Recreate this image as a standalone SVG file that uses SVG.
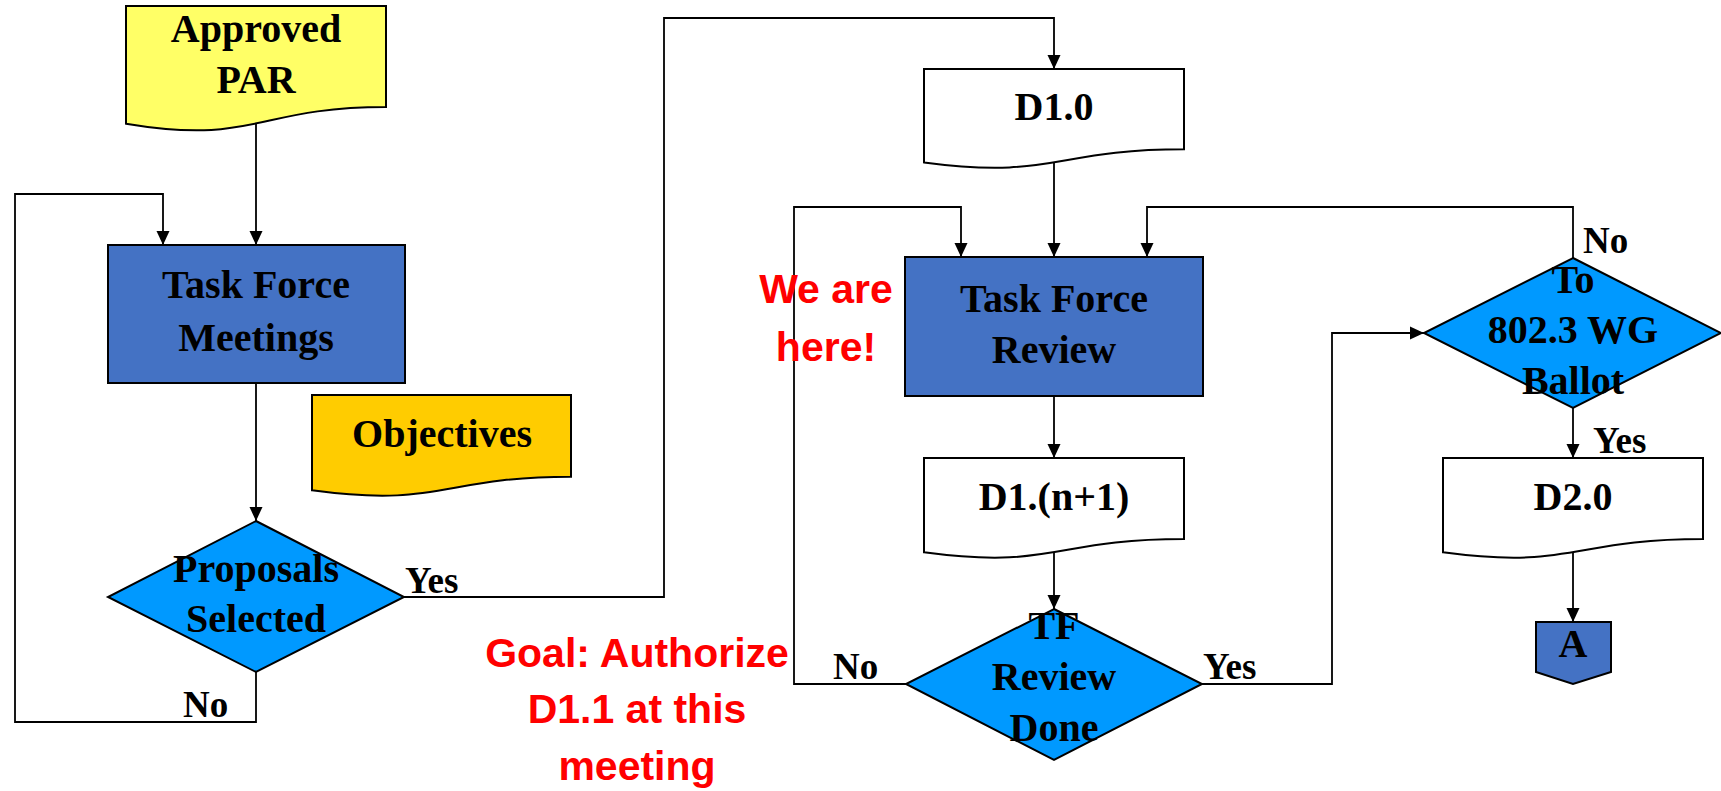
<svg xmlns="http://www.w3.org/2000/svg" width="1721" height="791" viewBox="0 0 1721 791">
<style>
.sh{stroke:#000;stroke-width:2}
.t{font-family:"Liberation Serif","Times New Roman",serif;font-weight:bold;font-size:40px;fill:#000;text-anchor:middle}
.l{font-family:"Liberation Serif","Times New Roman",serif;font-weight:bold;font-size:37px;fill:#000}
.r{font-family:"Liberation Sans",Arial,sans-serif;font-weight:bold;font-size:41px;fill:#FF0000;text-anchor:middle}
.c{fill:none;stroke:#000;stroke-width:1.8}
</style>
<defs>
<marker id="ah" markerUnits="userSpaceOnUse" markerWidth="16" markerHeight="16" viewBox="0 0 16 16" refX="15" refY="8" orient="auto">
<path d="M1,1.5 L15,8 L1,14.5 Z" fill="#000"/>
</marker>
</defs>
<rect width="1721" height="791" fill="#fff"/>
<g id="connectors">
<path class="c" d="M256,124 V245" marker-end="url(#ah)"/>
<path class="c" d="M256,383 V521" marker-end="url(#ah)"/>
<path class="c" d="M256,672 V722 H15 V194 H163 V245" marker-end="url(#ah)"/>
<path class="c" d="M404,597 H664 V18 H1054 V69" marker-end="url(#ah)"/>
<path class="c" d="M1054,162 V257" marker-end="url(#ah)"/>
<path class="c" d="M1054,396 V458" marker-end="url(#ah)"/>
<path class="c" d="M1054,552 V609" marker-end="url(#ah)"/>
<path class="c" d="M906,684 H794 V207 H961 V257" marker-end="url(#ah)"/>
<path class="c" d="M1202,684 H1332 V333 H1424" marker-end="url(#ah)"/>
<path class="c" d="M1573,258 V207 H1147 V257" marker-end="url(#ah)"/>
<path class="c" d="M1573,408 V458" marker-end="url(#ah)"/>
<path class="c" d="M1573,552 V622" marker-end="url(#ah)"/>
<text class="l" x="405" y="593">Yes</text>
<text class="l" x="183" y="717">No</text>
<text class="l" x="833" y="679">No</text>
<text class="l" x="1203" y="679">Yes</text>
<text class="l" x="1583" y="253">No</text>
<text class="l" x="1593" y="453">Yes</text>
</g>
<g id="approved-par">
<path class="sh" fill="#FFFF66" d="M126,6 H386 V107 C256,107 256,145.5 126,123.7 Z"/>
<text class="t" x="256" y="42">Approved</text>
<text class="t" x="256" y="93">PAR</text>
</g>
<g id="tf-meetings">
<rect class="sh" fill="#4472C4" x="108" y="245" width="297" height="138"/>
<text class="t" x="256" y="298">Task Force</text>
<text class="t" x="256" y="351">Meetings</text>
</g>
<g id="objectives">
<path class="sh" fill="#FFCC00" d="M312,395 H571 V476.8 C441.5,476.8 441.5,508 312,490.3 Z"/>
<text class="t" x="442" y="447">Objectives</text>
</g>
<g id="proposals-selected">
<polygon class="sh" fill="#0099FF" points="256,521 404,597 256,672 108,597"/>
<text class="t" x="256" y="582">Proposals</text>
<text class="t" x="256" y="632">Selected</text>
</g>
<g id="d10">
<path class="sh" fill="#fff" d="M924,69 H1184 V149.2 C1054,149.2 1054,179.8 924,162.4 Z"/>
<text class="t" x="1054" y="120">D1.0</text>
</g>
<g id="tf-review">
<rect class="sh" fill="#4472C4" x="905" y="257" width="298" height="139"/>
<text class="t" x="1054" y="312">Task Force</text>
<text class="t" x="1054" y="363">Review</text>
</g>
<g id="d1n1">
<path class="sh" fill="#fff" d="M924,458 H1184 V539 C1054,539 1054,569.9 924,552.3 Z"/>
<text class="t" x="1054" y="510">D1.(n+1)</text>
</g>
<g id="tf-review-done">
<polygon class="sh" fill="#0099FF" points="1054,609 1202,684 1054,760 906,684"/>
<text class="t" x="1054" y="639">TF</text>
<text class="t" x="1054" y="690">Review</text>
<text class="t" x="1054" y="741">Done</text>
</g>
<g id="wg-ballot">
<polygon class="sh" fill="#0099FF" points="1573,258 1721,333 1573,408 1424,333"/>
<text class="t" x="1573" y="293">To</text>
<text class="t" x="1573" y="343">802.3 WG</text>
<text class="t" x="1573" y="394">Ballot</text>
</g>
<g id="d20">
<path class="sh" fill="#fff" d="M1443,458 H1703 V539 C1573,539 1573,569.9 1443,552.3 Z"/>
<text class="t" x="1573" y="510">D2.0</text>
</g>
<g id="connector-a">
<path class="sh" fill="#4472C4" d="M1536,622 H1611 V672 L1573,684 L1536,672 Z"/>
<text class="t" x="1573" y="657">A</text>
</g>
<g id="we-are-here">
<text class="r" x="826" y="303">We are</text>
<text class="r" x="826" y="361">here!</text>
</g>
<g id="goal">
<text class="r" x="637" y="667">Goal: Authorize</text>
<text class="r" x="637" y="723">D1.1 at this</text>
<text class="r" x="637" y="780">meeting</text>
</g>
</svg>
